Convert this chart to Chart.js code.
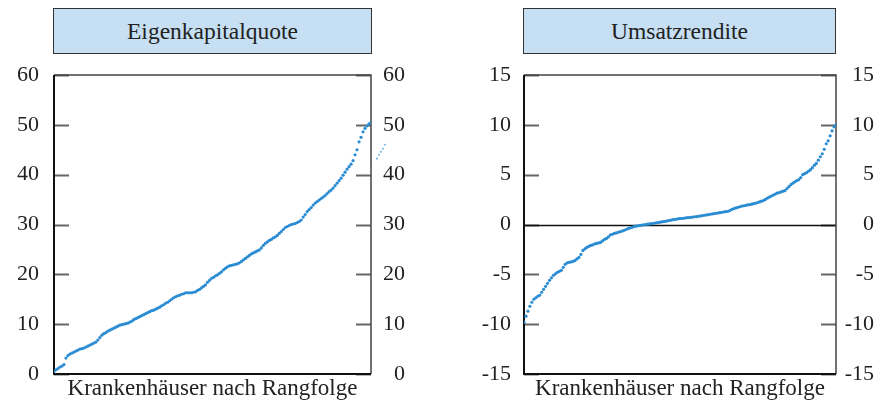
<!DOCTYPE html>
<html>
<head>
<meta charset="utf-8">
<script src="https://cdn.jsdelivr.net/npm/chart.js@4"></script>
<style>
  body { margin: 0; background: #fff; }
  #wrap { position: relative; width: 895px; height: 406px; overflow: hidden; }
  canvas { position: absolute; top: 0; }
  .titel {
    position: absolute; top: 8px; height: 44px; line-height: 44px;
    background: #c6dff2; border: 1px solid #333; box-sizing: content-box;
    font-family: "Liberation Serif", "Times New Roman", serif; font-size: 23.5px;
    color: #222; text-align: center;
  }
</style>
</head>
<body>
<div id="wrap">
  <div class="titel" style="left:53px; width:317px;">Eigenkapitalquote</div>
  <div class="titel" style="left:523px; width:311px;">Umsatzrendite</div>
  <canvas id="chartEK" width="447" height="406" style="left:0"></canvas>
  <canvas id="chartUR" width="448" height="406" style="left:447px"></canvas>
</div>
<script>
// Rangfolge der Krankenhäuser (1 = niedrigster Wert)
const rangplatz = Array.from({length: 160}, (_, i) => i + 1);

// Eigenkapitalquote in %, aufsteigend sortiert
const eigenkapitalquote = [
  0.5, 0.85, 1.1, 1.4, 1.6, 1.9, 3.2, 3.7, 4.0, 4.2,
  4.4, 4.6, 4.8, 5.0, 5.1, 5.2, 5.4, 5.6, 5.8, 6.0,
  6.2, 6.4, 6.8, 7.3, 7.8, 8.1, 8.3, 8.6, 8.8, 9.0,
  9.2, 9.4, 9.6, 9.8, 9.9, 10.0, 10.1, 10.2, 10.4, 10.6,
  10.9, 11.1, 11.3, 11.5, 11.7, 11.9, 12.1, 12.3, 12.5, 12.7,
  12.8, 13.0, 13.2, 13.4, 13.7, 13.9, 14.2, 14.4, 14.7, 15.0,
  15.3, 15.5, 15.7, 15.8, 16.0, 16.1, 16.3, 16.3, 16.3, 16.3,
  16.4, 16.5, 16.8, 17.0, 17.3, 17.6, 17.9, 18.4, 18.8, 19.2,
  19.4, 19.7, 19.9, 20.2, 20.5, 20.9, 21.2, 21.5, 21.7, 21.8,
  21.9, 22.0, 22.1, 22.3, 22.6, 22.9, 23.2, 23.5, 23.8, 24.1,
  24.3, 24.5, 24.7, 24.9, 25.3, 25.8, 26.2, 26.5, 26.8, 27.0,
  27.3, 27.5, 27.8, 28.2, 28.6, 29.0, 29.4, 29.6, 29.8, 30.0,
  30.1, 30.2, 30.4, 30.6, 30.9, 31.5, 32.0, 32.6, 33.0, 33.4,
  33.9, 34.3, 34.6, 34.9, 35.2, 35.5, 35.8, 36.2, 36.6, 36.9,
  37.3, 37.8, 38.3, 38.8, 39.3, 39.9, 40.5, 41.1, 41.6, 42.1,
  42.8, 44.0, 45.0, 46.6, 47.5, 48.6, 49.3, 49.8, 50.2, 50.5
];

// versprengte Punkte rechts neben dem linken Diagramm
const streuRang = [163, 164, 165, 166, 167];
const streuWerte = [43.2, 44.0, 44.6, 45.2, 46.0];

// Umsatzrendite in %, aufsteigend sortiert
const umsatzrendite = [
  -9.8, -9.2, -8.7, -8.2, -7.8, -7.5, -7.35, -7.2, -7.1, -6.8,
  -6.5, -6.2, -5.9, -5.6, -5.35, -5.1, -4.95, -4.8, -4.7, -4.6,
  -4.3, -4.0, -3.85, -3.8, -3.75, -3.7, -3.6, -3.45, -3.3, -3.0,
  -2.6, -2.45, -2.3, -2.2, -2.1, -2.05, -1.95, -1.9, -1.85, -1.8,
  -1.65, -1.5, -1.4, -1.25, -1.05, -0.98, -0.9, -0.85, -0.78, -0.72,
  -0.66, -0.58, -0.5, -0.42, -0.34, -0.28, -0.22, -0.17, -0.13, -0.1,
  -0.06, -0.03, 0.0, 0.03, 0.06, 0.09, 0.12, 0.15, 0.18, 0.22,
  0.26, 0.29, 0.32, 0.36, 0.4, 0.44, 0.48, 0.51, 0.55, 0.58,
  0.6, 0.62, 0.65, 0.68, 0.7, 0.72, 0.75, 0.78, 0.8, 0.83,
  0.86, 0.9, 0.93, 0.96, 1.0, 1.03, 1.07, 1.1, 1.13, 1.16,
  1.2, 1.23, 1.27, 1.3, 1.33, 1.42, 1.52, 1.6, 1.66, 1.72,
  1.78, 1.85, 1.88, 1.92, 1.96, 2.0, 2.04, 2.09, 2.13, 2.2,
  2.27, 2.34, 2.4, 2.52, 2.64, 2.75, 2.85, 2.95, 3.05, 3.14,
  3.2, 3.27, 3.34, 3.4, 3.6, 3.8, 4.0, 4.15, 4.27, 4.4,
  4.5, 4.7, 5.0, 5.1, 5.2, 5.35, 5.5, 5.7, 5.95, 6.13,
  6.45, 6.8, 7.1, 7.55, 8.1, 8.4, 8.9, 9.4, 9.8, 10.0
];

const ekTicks = [0, 10, 20, 30, 40, 50, 60];
const urTicks = [-15, -10, -5, 0, 5, 10, 15];

const xTitel = "Krankenhäuser nach Rangfolge";
const punktFarbe = "#2a8cd3";
const textFarbe = "#222";

Chart.defaults.font.family = '"Liberation Serif", "Times New Roman", serif';
Chart.defaults.font.size = 22;
Chart.defaults.color = textFarbe;

// Rahmen, kurze Striche innen an beiden Seiten und Nulllinie
const rahmenPlugin = {
  id: "rahmen",
  beforeDatasetsDraw(chart, args, opts) {
    const ctx = chart.ctx;
    const {left, right, top, bottom} = chart.chartArea;
    const y = chart.scales.y;
    ctx.save();
    ctx.strokeStyle = "#666";
    ctx.lineWidth = 2;
    for (const t of y.ticks) {
      const py = Math.round(y.getPixelForValue(t.value)) + 0.5;
      ctx.beginPath();
      ctx.moveTo(left, py); ctx.lineTo(left + 15, py);
      ctx.moveTo(right - 15, py); ctx.lineTo(right, py);
      ctx.stroke();
    }
    if (opts.nulllinie) {
      const p0 = Math.round(y.getPixelForValue(0)) + 0.5;
      ctx.strokeStyle = "#111";
      ctx.lineWidth = 1.5;
      ctx.beginPath();
      ctx.moveTo(left, p0); ctx.lineTo(right, p0);
      ctx.stroke();
    }
    ctx.strokeStyle = "#444";
    ctx.lineWidth = 1.5;
    ctx.beginPath();
    ctx.moveTo(left, top); ctx.lineTo(right, top); ctx.lineTo(right, bottom);
    ctx.stroke();
    ctx.strokeStyle = "#111";
    ctx.lineWidth = 2;
    ctx.beginPath();
    ctx.moveTo(left, top); ctx.lineTo(left, bottom); ctx.lineTo(right, bottom);
    ctx.stroke();
    ctx.restore();
  },
  // Punkte ausserhalb des Achsenbereichs (werden vom Scatter sonst weggelassen)
  afterDatasetsDraw(chart, args, opts) {
    if (!opts.streu) return;
    const ctx = chart.ctx;
    const x = chart.scales.x;
    const y = chart.scales.y;
    ctx.save();
    ctx.fillStyle = "#7fbbe6";
    opts.streu.rang.forEach((r, i) => {
      ctx.beginPath();
      ctx.arc(x.getPixelForValue(r), y.getPixelForValue(opts.streu.werte[i]), 1.1, 0, Math.PI * 2);
      ctx.fill();
    });
    ctx.restore();
  }
};

function yAchse(min, max, tickWerte, position, breite, abstand) {
  return {
    type: "linear",
    position: position,
    min: min,
    max: max,
    afterBuildTicks: (s) => { s.ticks = tickWerte.map(v => ({value: v})); },
    afterFit: (s) => { s.width = breite; },
    grid: {display: false, drawTicks: false},
    border: {display: false},
    ticks: {
      padding: abstand,
      crossAlign: position === "right" ? "far" : "near",
      color: textFarbe,
      font: {size: 22}
    }
  };
}

function xAchse() {
  return {
    type: "linear",
    min: 1,
    max: rangplatz.length,
    afterFit: (s) => { s.height = 32; },
    grid: {display: false, drawTicks: false},
    border: {display: false},
    ticks: {display: false},
    title: {
      display: true,
      text: xTitel,
      color: textFarbe,
      font: {size: 23},
      padding: {top: 2, bottom: 3}
    }
  };
}

function punkte(werte) {
  return rangplatz.map((r, i) => ({x: r, y: werte[i]}));
}

new Chart(document.getElementById("chartEK"), {
  type: "scatter",
  data: {
    datasets: [{
      data: punkte(eigenkapitalquote),
      backgroundColor: punktFarbe,
      borderWidth: 0,
      pointRadius: 1.6
    }]
  },
  options: {
    responsive: false,
    animation: false,
    devicePixelRatio: 1,
    layout: {padding: {top: 75, right: 42, left: 0, bottom: 0}},
    scales: {
      x: xAchse(),
      y: yAchse(0, 60, ekTicks, "left", 54, 15),
      y2: yAchse(0, 60, ekTicks, "right", 34, 14)
    },
    plugins: {
      legend: {display: false},
      tooltip: {enabled: false},
      rahmen: {nulllinie: false, streu: {rang: streuRang, werte: streuWerte}}
    }
  },
  plugins: [rahmenPlugin]
});

new Chart(document.getElementById("chartUR"), {
  type: "scatter",
  data: {
    datasets: [{
      data: punkte(umsatzrendite),
      backgroundColor: punktFarbe,
      borderWidth: 0,
      pointRadius: 1.6
    }]
  },
  options: {
    responsive: false,
    animation: false,
    devicePixelRatio: 1,
    layout: {padding: {top: 75, right: 21, left: 0, bottom: 0}},
    scales: {
      x: xAchse(),
      y: yAchse(-15, 15, urTicks, "left", 77, 13),
      y2: yAchse(-15, 15, urTicks, "right", 38, 14)
    },
    plugins: {
      legend: {display: false},
      tooltip: {enabled: false},
      rahmen: {nulllinie: true, streu: null}
    }
  },
  plugins: [rahmenPlugin]
});
</script>
</body>
</html>
